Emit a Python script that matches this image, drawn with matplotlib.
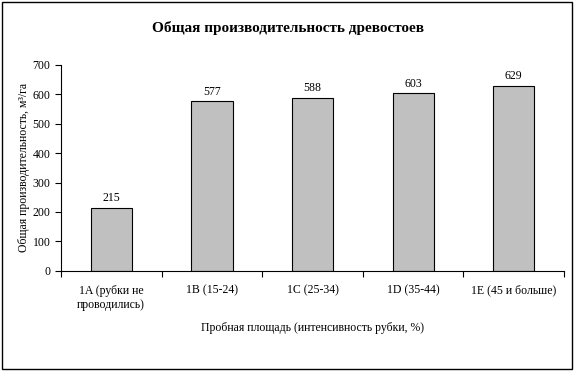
import numpy as np
import matplotlib
matplotlib.use("Agg")
import matplotlib.pyplot as plt
from matplotlib.patches import Rectangle

categories = ["1A (рубки не\nпроводились)", "1B (15-24)", "1C (25-34)", "1D (35-44)", "1E (45 и больше)"]
values = [215, 577, 588, 603, 629]

plt.rcParams["font.family"] = ["Liberation Serif", "DejaVu Serif"]

fig = plt.figure(figsize=(5.75, 3.71), dpi=100)
ax = fig.add_axes([0.106, 0.270, 0.875, 0.555])

x = np.arange(len(values))
ax.bar(x, values, width=0.41, color="#c0c0c0", edgecolor="black", linewidth=0.8)
for xi, v in zip(x, values):
    ax.text(xi, v + 12, str(v), ha="center", va="bottom", fontsize=8.5)

ax.set_xlim(-0.5, len(values) - 0.5)
ax.set_ylim(0, 700)
ax.set_yticks(range(0, 701, 100))
ax.set_xticks(x)
ax.set_xticklabels(categories, fontsize=8.5)
ax.set_xticks(np.arange(-0.5, len(values), 1), minor=True)
ax.tick_params(axis="x", which="major", length=0, pad=10)
ax.tick_params(axis="x", which="minor", length=4, width=0.8)
ax.tick_params(axis="y", length=4, width=0.8, labelsize=8.5)

for s in ["top", "right"]:
    ax.spines[s].set_visible(False)
for s in ["left", "bottom"]:
    ax.spines[s].set_linewidth(0.8)

ax.set_ylabel("Общая производительность, м³/га", fontsize=8.5, labelpad=2)
ax.set_xlabel("Пробная площадь (интенсивность рубки, %)", fontsize=8.5, labelpad=8)
fig.text(0.5, 0.925, "Общая производительность древостоев", ha="center",
         va="center", fontsize=11, fontweight="bold")

fig.patches.append(Rectangle((0.004, 0.006), 0.99, 0.988, transform=fig.transFigure,
                             fill=False, edgecolor="black", linewidth=1))

fig.savefig("out.png", dpi=100)
